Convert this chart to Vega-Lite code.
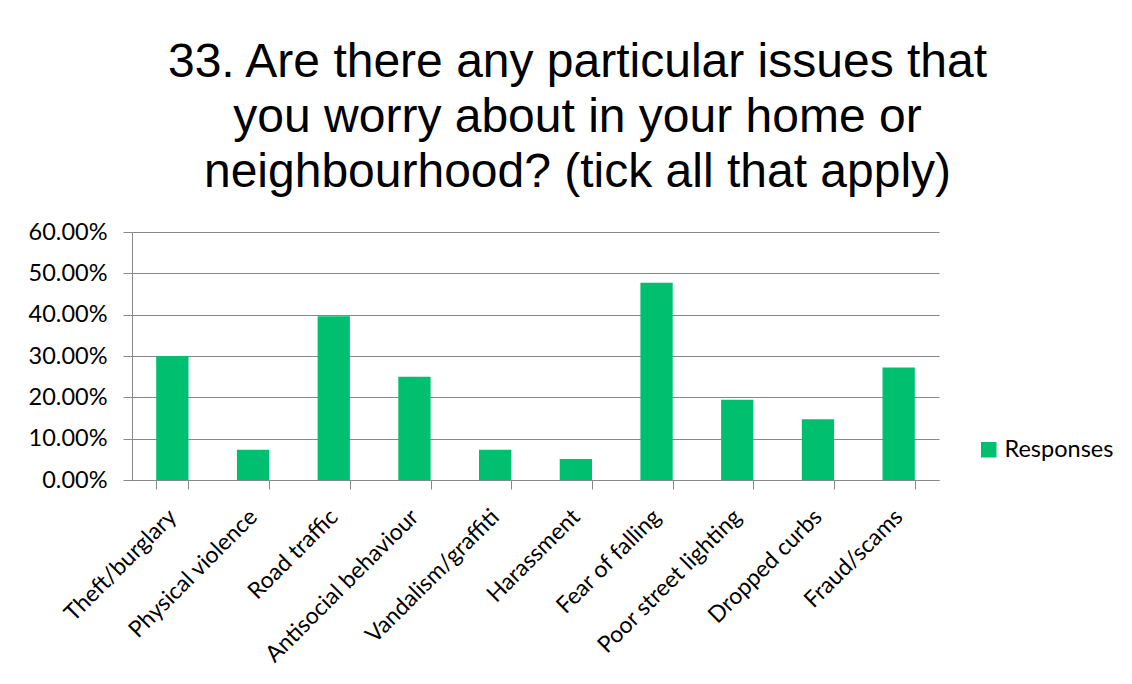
{
  "$schema": "https://vega.github.io/schema/vega-lite/v6.json",
  "autosize": {"type": "none"},
  "width": 807,
  "height": 248,
  "padding": {"left": 132, "top": 232, "right": 193, "bottom": 204},
  "background": "white",
  "title": {
    "text": ["33. Are there any particular issues that", "you worry about in your home or", "neighbourhood? (tick all that apply)"],
    "font": "Liberation Sans",
    "fontSize": 48,
    "fontWeight": "normal",
    "color": "#000000",
    "lineHeight": 55,
    "anchor": "middle",
    "dx": 42,
    "offset": 23
  },
  "data": {
    "values": [
      {"issue": "Theft/burglary", "pct": 0.300},
      {"issue": "Physical violence", "pct": 0.073},
      {"issue": "Road traffic", "pct": 0.396},
      {"issue": "Antisocial behaviour", "pct": 0.250},
      {"issue": "Vandalism/graffiti", "pct": 0.073},
      {"issue": "Harassment", "pct": 0.051},
      {"issue": "Fear of falling", "pct": 0.477},
      {"issue": "Poor street  lighting", "pct": 0.194},
      {"issue": "Dropped curbs", "pct": 0.147},
      {"issue": "Fraud/scams", "pct": 0.272}
    ]
  },
  "mark": {"type": "bar"},
  "encoding": {
    "x": {
      "field": "issue",
      "type": "nominal",
      "sort": null,
      "title": null,
      "scale": {"paddingInner": 0.6, "paddingOuter": 0.3},
      "axis": {
        "labelAngle": -45,
        "labelAlign": "right",
        "labelBaseline": "middle",
        "labelFont": "Lato",
        "labelFontSize": 23,
        "labelColor": "#000000",
        "labelPadding": 24,
        "labelOffset": 0,
        "labelLimit": 400,
        "tickBand": "extent",
        "tickSize": 9,
        "tickColor": "#888888",
        "domainColor": "#888888",
        "grid": false
      }
    },
    "y": {
      "field": "pct",
      "type": "quantitative",
      "title": null,
      "scale": {"domain": [0, 0.6], "nice": false},
      "axis": {
        "values": [0, 0.1, 0.2, 0.3, 0.4, 0.5, 0.6],
        "format": ".2%",
        "labelFont": "Lato",
        "labelFontSize": 23.5,
        "labelColor": "#000000",
        "labelPadding": 16,
        "tickSize": 9,
        "tickColor": "#888888",
        "domainColor": "#888888",
        "gridColor": "#888888",
        "gridWidth": 1
      }
    },
    "color": {
      "datum": "Responses",
      "scale": {"range": ["#00BF6F"]},
      "legend": {
        "title": null,
        "orient": "none",
        "legendX": 845,
        "legendY": 206,
        "symbolType": "square",
        "symbolSize": 240,
        "symbolStrokeWidth": 0,
        "labelFont": "Lato",
        "labelFontSize": 23.5,
        "labelColor": "#000000"
      }
    }
  },
  "config": {
    "view": {"stroke": null}
  }
}
